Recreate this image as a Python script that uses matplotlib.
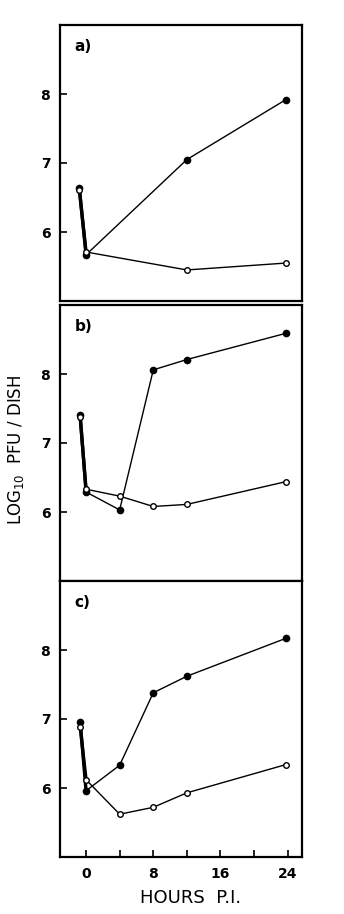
import numpy as np
import matplotlib.pyplot as plt

# time points (hours p.i.), first point is the pre-wash sample
hours_a = [-0.8, 0, 12, 23.8]
filled_a = [6.64, 5.67, 7.05, 7.92]
open_a = [6.61, 5.71, 5.45, 5.55]

hours_bc = [-0.7, 0, 4, 8, 12, 23.8]
filled_b = [7.41, 6.29, 6.03, 8.06, 8.21, 8.59]
open_b = [7.37, 6.33, 6.23, 6.08, 6.11, 6.44]

filled_c = [6.96, 5.96, 6.33, 7.38, 7.62, 8.17]
open_c = [6.89, 6.12, 5.62, 5.72, 5.93, 6.34]

panels = [
    ('a)', hours_a, filled_a, open_a),
    ('b)', hours_bc, filled_b, open_b),
    ('c)', hours_bc, filled_c, open_c),
]

fig = plt.figure(figsize=(3.44, 9.14), dpi=100)
left, width = 60 / 344, 242 / 344
tops = [25, 305, 581]
h = 276

for i, (lab, x, yf, yo) in enumerate(panels):
    bottom = 1 - (tops[i] + h) / 914
    ax = fig.add_axes([left, bottom, width, h / 914])
    # thick adsorption segment, then thin growth lines
    ax.plot(x[:2], yf[:2], color='black', lw=2.4, zorder=2)
    ax.plot(x[:2], yo[:2], color='black', lw=2.4, zorder=2)
    ax.plot(x[1:], yf[1:], color='black', lw=1.0, marker='o', ms=4.5,
            mfc='black', mec='black', zorder=3)
    ax.plot(x[1:], yo[1:], color='black', lw=1.0, marker='o', ms=4,
            mfc='white', mec='black', mew=1.0, zorder=3)
    ax.plot(x[:1], yf[:1], 'o', color='black', ms=4.5, zorder=3)
    ax.plot(x[:1], yo[:1], 'o', mfc='white', mec='black', ms=4, zorder=3)

    ax.set_xlim(-3.1, 25.7)
    ax.set_ylim(5.0, 9.0)
    ax.set_yticks([6, 7, 8])
    ax.set_yticklabels(['6', '7', '8'], fontweight='bold', fontsize=10)
    ax.tick_params(direction='in', length=5, width=1.2, pad=7)
    for s in ax.spines.values():
        s.set_linewidth(1.6)
    ax.text(0.06, 0.95, lab, transform=ax.transAxes, fontsize=11,
            fontweight='bold', va='top', ha='left')
    if i < 2:
        ax.set_xticks([])
    else:
        ax.set_xticks([0, 4, 8, 12, 16, 20, 24])
        ax.set_xticklabels(['0', '', '8', '', '16', '', '24'],
                           fontweight='bold', fontsize=10)

fig.text(16 / 344, 1 - 450 / 914, 'LOG$_{10}$  PFU / DISH', rotation=90,
         ha='center', va='center', fontsize=12)
fig.text(191 / 344, 1 - 898 / 914, 'HOURS  P.I.', ha='center', va='center',
         fontsize=13)

fig.savefig('out.png', dpi=100)
